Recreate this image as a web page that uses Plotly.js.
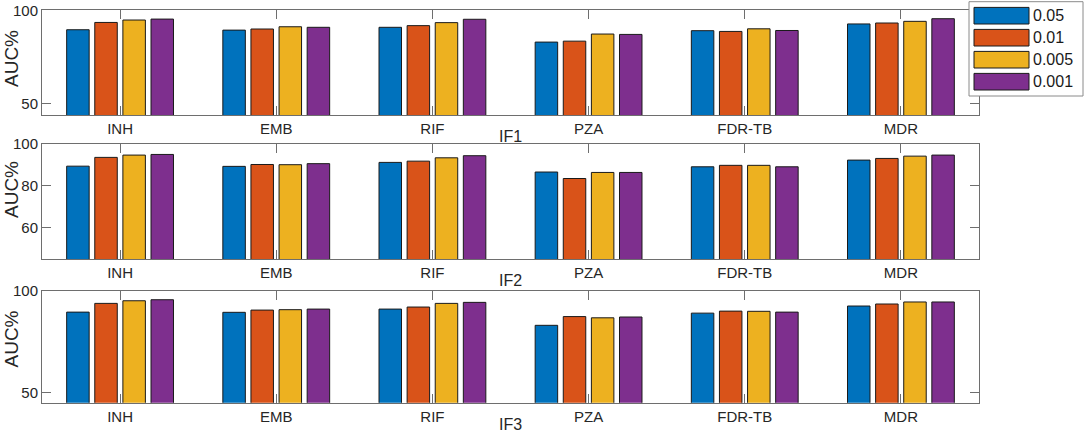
<!DOCTYPE html>
<html>
<head>
<meta charset="utf-8">
<script src="https://cdn.plot.ly/plotly-3.0.1.min.js"></script>
<style>
  body { margin: 0; background: #fff; }
  #graph { width: 1084px; height: 434px; }
</style>
</head>
<body>
<div id="graph"></div>
<script>
// drugs on the x axis, p-value thresholds as series
var drugs = ['INH', 'EMB', 'RIF', 'PZA', 'FDR-TB', 'MDR'];
var thresholds = ['0.05', '0.01', '0.005', '0.001'];
var panelNames = ['IF1', 'IF2', 'IF3'];

// AUC%
var if1_p05  = [89.6, 89.4, 90.9, 83.0, 89.1, 92.7];
var if1_p01  = [93.5, 90.0, 91.8, 83.5, 88.7, 93.2];
var if1_p005 = [94.8, 91.2, 93.4, 87.3, 90.1, 94.1];
var if1_p001 = [95.3, 90.9, 95.2, 87.1, 89.2, 95.5];

var if2_p05  = [89.4, 89.3, 91.2, 86.6, 89.1, 92.3];
var if2_p01  = [93.6, 90.2, 91.8, 83.5, 89.8, 93.1];
var if2_p005 = [94.7, 90.1, 93.4, 86.4, 89.8, 94.2];
var if2_p001 = [95.0, 90.6, 94.4, 86.4, 89.1, 94.7];

var if3_p05  = [89.6, 89.5, 91.1, 83.1, 89.1, 92.6];
var if3_p01  = [93.9, 90.6, 92.1, 87.4, 90.1, 93.6];
var if3_p005 = [95.2, 90.8, 93.9, 86.8, 90.0, 94.6];
var if3_p001 = [95.7, 91.1, 94.4, 87.2, 89.6, 94.6];

var yTicks1 = [50, 100];
var yTicks2 = [60, 80, 100];
var yTicks3 = [50, 100];

var panels = [
    {series: [if1_p05, if1_p01, if1_p005, if1_p001], ticks: yTicks1, range: [44, 100]},
    {series: [if2_p05, if2_p01, if2_p005, if2_p001], ticks: yTicks2, range: [45, 100]},
    {series: [if3_p05, if3_p01, if3_p005, if3_p001], ticks: yTicks3, range: [45, 100]}
];

var barColors = ['#0072BD', '#D95319', '#EDB120', '#7E2F8E'];

// page geometry in pixels
var W = 1084, H = 434;
var plotLeft = 42, plotRight = 979;
var panelTop = [10.3, 144, 291];
var panelBottom = [115, 259, 402.7];
var titleCenter = [59, 190, 339.5];

function px(x) { return (x - plotLeft) / (plotRight - plotLeft); }
function py(y) { return (H - y) / H; }

var fontFam = "'Liberation Sans', Arial, Helvetica, sans-serif";
var axisGrey = '#6e6e6e';
var textCol = '#262626';

var traces = [];
var layout = {
    width: W, height: H,
    margin: {l: plotLeft, r: W - plotRight, t: 0, b: 0},
    paper_bgcolor: '#fff',
    plot_bgcolor: '#fff',
    barmode: 'group',
    bargap: 0.28,
    bargroupgap: 0.2,
    showlegend: false,
    font: {family: fontFam, color: textCol},
    annotations: [],
    shapes: []
};

panels.forEach(function (panel, p) {
    var n = p === 0 ? '' : String(p + 1);
    panel.series.forEach(function (vals, s) {
        traces.push({
            type: 'bar',
            x: drugs,
            y: vals,
            name: thresholds[s],
            xaxis: 'x' + n,
            yaxis: 'y' + n,
            marker: {color: barColors[s], line: {color: '#1a1a1a', width: 1}}
        });
    });

    layout['xaxis' + n] = {
        domain: [0, 1],
        anchor: 'y' + n,
        type: 'category',
        range: [-0.5, drugs.length - 0.5],
        showline: true, mirror: 'ticks', linecolor: axisGrey, linewidth: 1,
        ticks: 'inside', ticklen: 9, tickcolor: axisGrey, tickwidth: 1,
        tickfont: {family: fontFam, size: 15, color: textCol},
        showgrid: false, zeroline: false, fixedrange: true
    };
    layout['yaxis' + n] = {
        domain: [py(panelBottom[p]), py(panelTop[p])],
        anchor: 'x' + n,
        range: panel.range,
        tickvals: panel.ticks,
        showline: true, mirror: 'ticks', linecolor: axisGrey, linewidth: 1,
        ticks: 'inside', ticklen: 9, tickcolor: axisGrey, tickwidth: 1,
        tickfont: {family: fontFam, size: 15, color: textCol},
        showgrid: false, zeroline: false, fixedrange: true
    };

    // y label
    layout.annotations.push({
        text: 'AUC%', textangle: -90, showarrow: false,
        xref: 'paper', yref: 'paper',
        x: px(11), y: py(titleCenter[p]),
        xanchor: 'center', yanchor: 'middle',
        font: {family: fontFam, size: 19, color: textCol}
    });
    // panel name under the axis
    layout.annotations.push({
        text: panelNames[p], showarrow: false,
        xref: 'paper', yref: 'paper',
        x: 0.5, y: py(panelBottom[p]),
        xanchor: 'center', yanchor: 'top', yshift: -11,
        font: {family: fontFam, size: 16, color: textCol}
    });
});

// legend box drawn by hand so the swatches are wide like the original
var legX0 = 969, legX1 = 1083, legY0 = 1.7, legY1 = 96;
layout.shapes.push({
    type: 'rect', xref: 'paper', yref: 'paper', layer: 'above',
    x0: px(legX0), x1: px(legX1), y0: py(legY1), y1: py(legY0),
    fillcolor: '#fff', line: {color: '#8a8a8a', width: 1}
});
thresholds.forEach(function (t, i) {
    var cy = 15.7 + i * 22;
    layout.shapes.push({
        type: 'rect', xref: 'paper', yref: 'paper', layer: 'above',
        x0: px(974), x1: px(1029), y0: py(cy + 8.3), y1: py(cy - 8.3),
        fillcolor: barColors[i], line: {color: '#1a1a1a', width: 1}
    });
    layout.annotations.push({
        text: t, showarrow: false,
        xref: 'paper', yref: 'paper',
        x: px(1031), y: py(cy),
        xanchor: 'left', yanchor: 'middle',
        font: {family: fontFam, size: 16, color: '#1a1a1a'}
    });
});

Plotly.newPlot('graph', traces, layout, {displayModeBar: false, staticPlot: true});
</script>
</body>
</html>
